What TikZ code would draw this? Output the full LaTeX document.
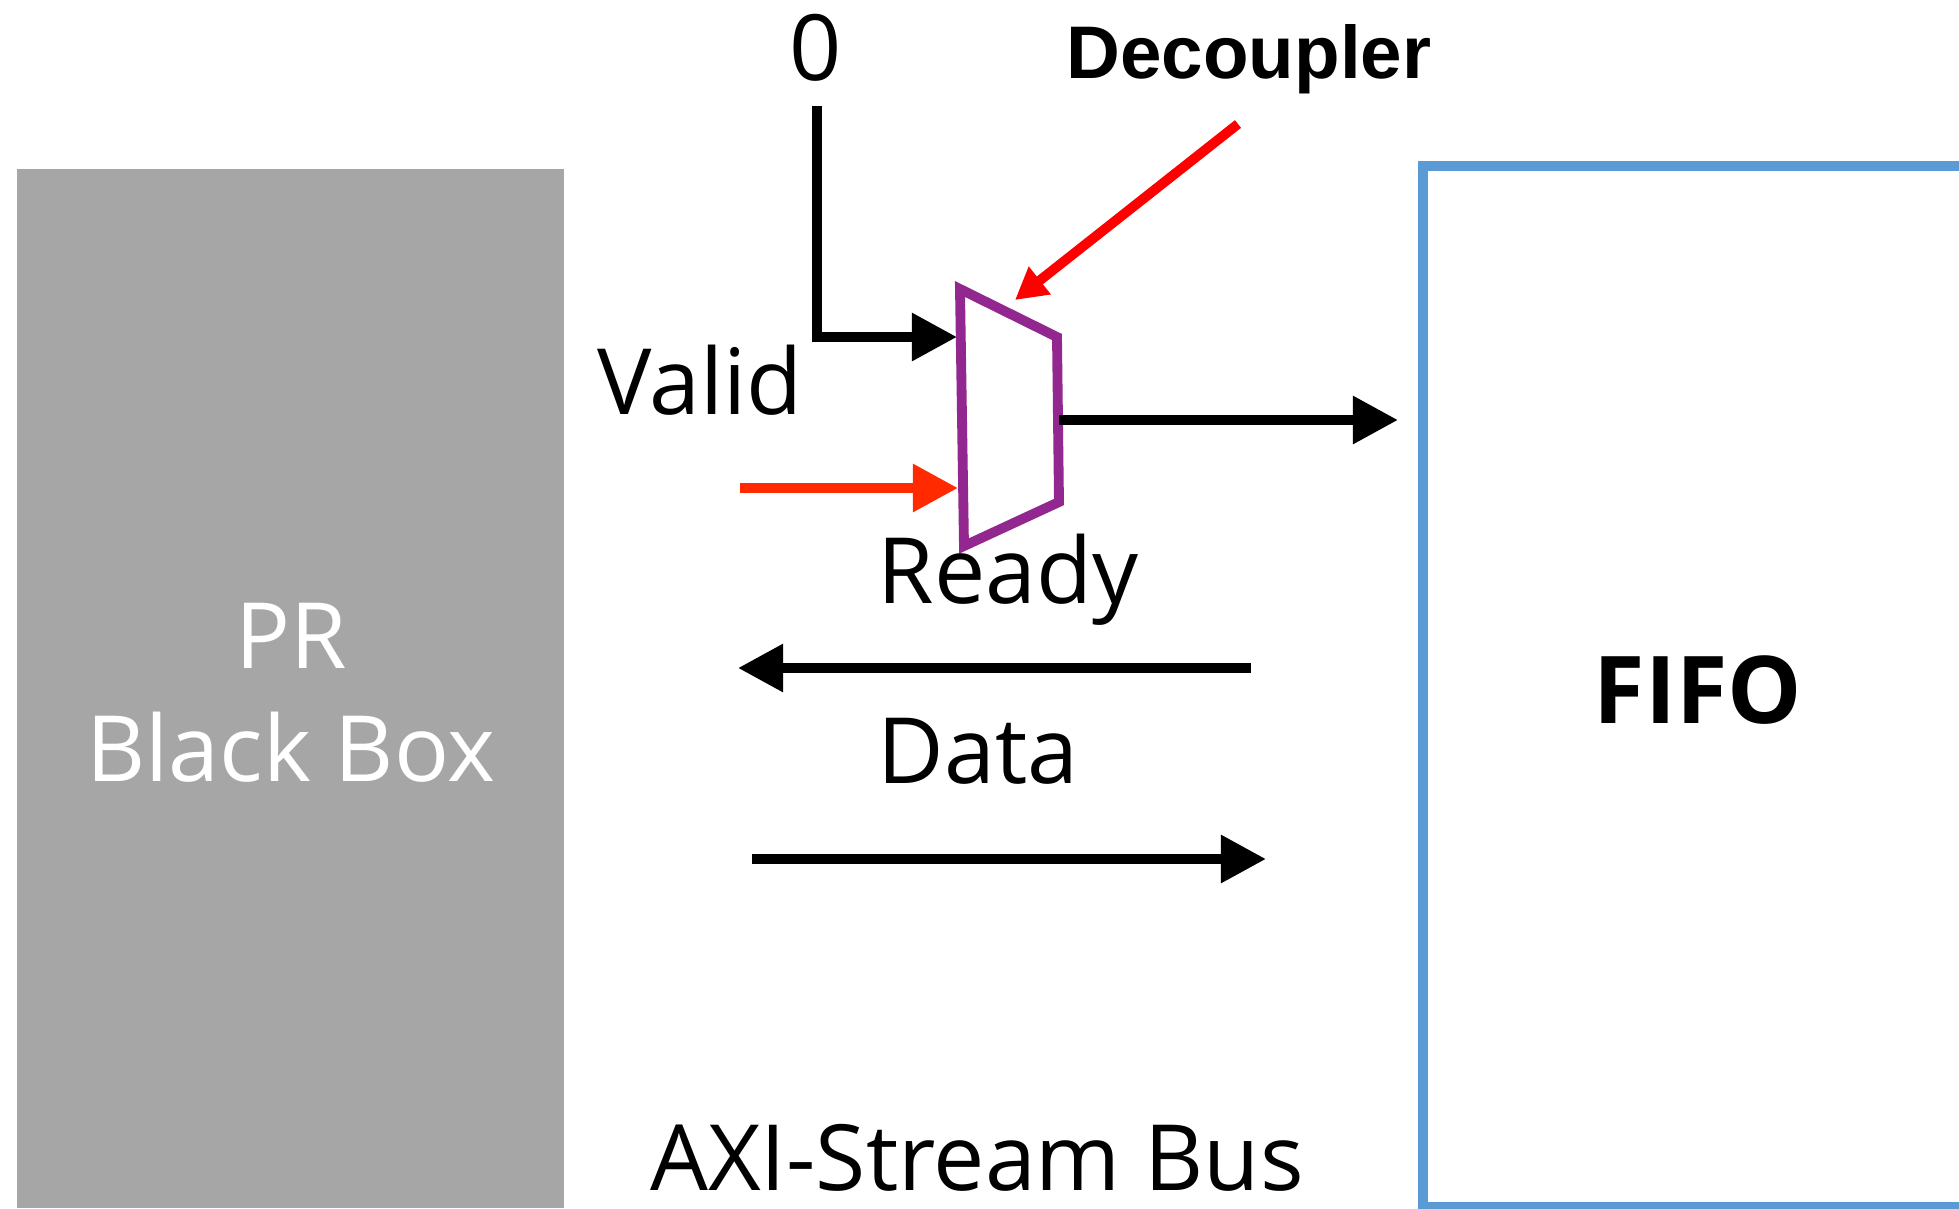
\documentclass[tikz,border=0pt]{standalone}
\usepackage{fontspec}
\usepackage{xcolor}
\setmainfont{Open Sans}
\newfontfamily\declfont{Liberation Sans}
\usetikzlibrary{arrows.meta,positioning}
\definecolor{muxpurple}{RGB}{146,39,143}
\definecolor{fifoblue}{RGB}{91,155,213}
\definecolor{boxgray}{RGB}{166,166,166}
\definecolor{selred}{RGB}{255,42,0}

\begin{document}
\begin{tikzpicture}[x=0.01cm, y=-0.01cm, font=\fontsize{26}{32}\selectfont, inner sep=0pt,
  arr/.style={-{Triangle[length=12.8pt, width=13pt]}, line width=2.8pt},
  decarr/.style={-{Triangle[length=9pt, width=9.5pt]}, line width=2.8pt, red},
  tag/.style={anchor=base},
  blocktext/.style={align=center}]
\useasboundingbox (0,0) rectangle (1959,1208);
\node[fill=boxgray, minimum width=5.47cm, minimum height=10.39cm] (blackbox) at (290.5,688.5) {};
\node[draw=fifoblue, line width=2.8pt, minimum width=5.5cm, minimum height=10.41cm] (fifo) at (1698,686.5) {};
\node[blocktext, text=white] (prtext) at (291,693) {PR\\Black Box};
\node[blocktext, font=\fontsize{26.6}{32}\selectfont\bfseries] (fifotext) at (1698,690) {FIFO};
% mux corners
\coordinate (mA) at (960,289);
\coordinate (mB) at (1057,337);
\coordinate (mC) at (1059,502);
\coordinate (mD) at (964,546);
\draw[muxpurple, line width=2.8pt, miter limit=10] (mA) -- (mB) -- (mC) -- (mD) -- cycle;
\node[tag] (zero) at (816,80) {0};
\node[tag, font=\declfont\fontsize{21.2}{26}\selectfont\bfseries] (decoupler) at (1249,78) {Decoupler};
\node[tag] (valid) at (700,414) {Valid};
\node[tag] (ready) at (1008,603) {Ready};
\node[tag] (data) at (978,783) {Data};
\node[tag] (axi) at (977,1190) {AXI-Stream Bus};
% free line ends
\coordinate (zeroS) at (817,106);
\coordinate (zeroT) at (957,337);
\coordinate (outS) at (1059,420);
\coordinate (outT) at (1398,420);
\coordinate (selS) at (740,488);
\coordinate (selT) at (958,488);
\coordinate (decS) at (1238,124);
\coordinate (decT) at (1015,300);
\coordinate (rdyS) at (1251,668);
\coordinate (rdyT) at (738,668);
\coordinate (datS) at (752,859);
\coordinate (datT) at (1266,859);
\draw[arr] (zeroS) |- (zeroT);
\draw[arr] (outS) -- (outT);
\draw[arr, selred] (selS) -- (selT);
\draw[decarr] (decS) -- (decT);
\draw[arr] (rdyS) -- (rdyT);
\draw[arr] (datS) -- (datT);
\end{tikzpicture}
\end{document}
